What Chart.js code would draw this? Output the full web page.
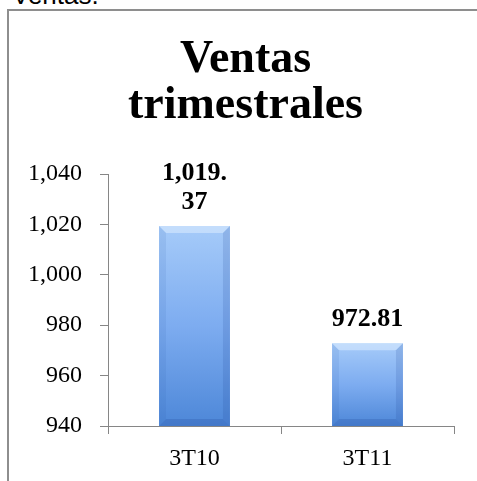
<!DOCTYPE html>
<html>
<head>
<meta charset="utf-8">
<script src="https://cdn.jsdelivr.net/npm/chart.js@4.4.1/dist/chart.umd.min.js"></script>
<style>
  html, body { margin: 0; padding: 0; background: #fff; overflow: hidden; width: 477px; height: 481px; }
  #above { position: absolute; left: 12px; top: -18px; font: 26px "Liberation Sans", Arial, sans-serif; line-height: 26px; color: #000; }
  #frame { position: absolute; left: 7px; top: 9px; border-left: 2px solid #8e8e8e; border-top: 2px solid #8e8e8e; }
  canvas { display: block; }
</style>
</head>
<body>
<div id="above">Ventas.</div>
<div id="frame"><canvas id="myChart" width="473" height="472"></canvas></div>
<script>
// chart data
const titleLines = ['Ventas', 'trimestrales'];
const quarters = ['3T10', '3T11'];
const sales = [1019.37, 972.81];
const yMin = 940;
const yMax = 1040;
const yStep = 20;

const serif = '"Liberation Serif", "Times New Roman", serif';
const axisGray = '#868686';

function fmt(v, decimals) {
  return v.toLocaleString('en-US', { minimumFractionDigits: decimals, maximumFractionDigits: decimals });
}

// break "1,019.37" after the point when it is wider than the bar slot
function wrapLabel(ctx, text, maxWidth) {
  if (ctx.measureText(text).width <= maxWidth) return [text];
  const i = text.indexOf('.');
  if (i < 0) return [text];
  return [text.slice(0, i + 1), text.slice(i + 1)];
}

// value labels above the bars
const valueLabels = {
  id: 'valueLabels',
  afterDatasetsDraw(chart) {
    const ctx = chart.ctx;
    const meta = chart.getDatasetMeta(0);
    ctx.save();
    ctx.font = 'bold 26px ' + serif;
    ctx.fillStyle = '#000';
    ctx.textAlign = 'center';
    ctx.textBaseline = 'alphabetic';
    meta.data.forEach(function (bar, i) {
      const lines = wrapLabel(ctx, fmt(sales[i], 2), 80);
      let y = bar.y - 17 - (lines.length - 1) * 29;
      lines.forEach(function (line) {
        ctx.fillText(line, bar.x, y);
        y += 29;
      });
    });
    ctx.restore();
  }
};

// bevel edges like the office chart style
const bevel = {
  id: 'bevel',
  afterDatasetsDraw(chart) {
    const ctx = chart.ctx;
    const b = 7;
    chart.getDatasetMeta(0).data.forEach(function (bar) {
      const l = bar.x - bar.width / 2, r = bar.x + bar.width / 2;
      const t = bar.y, btm = Math.min(bar.base, chart.chartArea.bottom);
      ctx.save();
      // top
      ctx.beginPath();
      ctx.moveTo(l, t); ctx.lineTo(r, t); ctx.lineTo(r - b, t + b); ctx.lineTo(l + b, t + b); ctx.closePath();
      ctx.fillStyle = 'rgba(225,240,255,0.5)';
      ctx.fill();
      // left
      ctx.beginPath();
      ctx.moveTo(l, t); ctx.lineTo(l + b, t + b); ctx.lineTo(l + b, btm - b); ctx.lineTo(l, btm); ctx.closePath();
      ctx.fillStyle = 'rgba(40,90,170,0.10)';
      ctx.fill();
      // right
      ctx.beginPath();
      ctx.moveTo(r, t); ctx.lineTo(r - b, t + b); ctx.lineTo(r - b, btm - b); ctx.lineTo(r, btm); ctx.closePath();
      ctx.fillStyle = 'rgba(30,70,150,0.16)';
      ctx.fill();
      // bottom
      ctx.beginPath();
      ctx.moveTo(l, btm); ctx.lineTo(l + b, btm - b); ctx.lineTo(r - b, btm - b); ctx.lineTo(r, btm); ctx.closePath();
      ctx.fillStyle = 'rgba(30,70,150,0.22)';
      ctx.fill();
      ctx.restore();
    });
  }
};

function barFill(context) {
  const chart = context.chart;
  if (!chart.chartArea || !chart.scales.y) return '#6fa3e8';
  const y = chart.scales.y;
  const top = y.getPixelForValue(context.raw);
  const bottom = y.getPixelForValue(yMin);
  const g = chart.ctx.createLinearGradient(0, top, 0, bottom);
  g.addColorStop(0, '#a6cbf9');
  g.addColorStop(0.5, '#7dacf0');
  g.addColorStop(1, '#4d87d8');
  return g;
}

const ctx = document.getElementById('myChart').getContext('2d');
new Chart(ctx, {
  type: 'bar',
  data: {
    labels: quarters,
    datasets: [{
      data: sales,
      backgroundColor: barFill,
      borderWidth: 0,
      categoryPercentage: 1,
      barPercentage: 0.41
    }]
  },
  options: {
    responsive: false,
    animation: false,
    devicePixelRatio: 1,
    layout: { padding: 0 },
    plugins: {
      legend: { display: false },
      tooltip: { enabled: false },
      title: {
        display: true,
        text: titleLines,
        color: '#000',
        font: { family: serif, size: 46, weight: 'bold', lineHeight: 1.0 },
        padding: { top: 26.5, bottom: 44.5 }
      }
    },
    scales: {
      x: {
        afterFit: function (scale) { scale.height = 57; },
        grid: { display: true, drawOnChartArea: false, drawTicks: true, tickLength: 8, color: axisGray, offset: true },
        border: { display: true, color: axisGray, width: 1 },
        ticks: { color: '#000', font: { family: serif, size: 24 }, padding: 10 }
      },
      y: {
        min: yMin,
        max: yMax,
        afterFit: function (scale) { scale.width = 99; },
        grid: { display: true, drawOnChartArea: false, drawTicks: true, tickLength: 8, color: axisGray },
        border: { display: true, color: axisGray, width: 1 },
        ticks: {
          stepSize: yStep,
          color: '#000',
          font: { family: serif, size: 24 },
          padding: 18,
          callback: function (v) { return fmt(v, 0); }
        }
      },
      // empty right-hand gutter so the title stays centred on the whole chart
      gutter: {
        position: 'right',
        display: true,
        min: yMin,
        max: yMax,
        afterFit: function (scale) { scale.width = 28; },
        grid: { display: false },
        border: { display: false },
        ticks: { display: false }
      }
    }
  },
  plugins: [bevel, valueLabels]
});
</script>
</body>
</html>
